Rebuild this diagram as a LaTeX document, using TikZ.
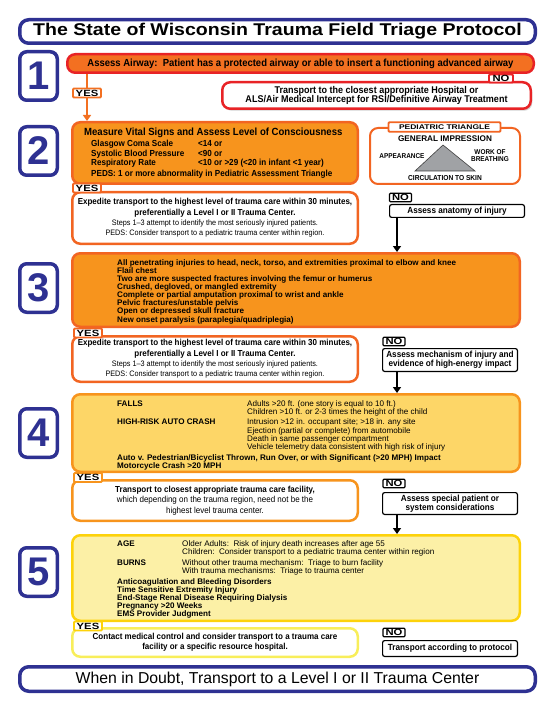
\documentclass[tikz,border=0pt]{standalone}
\usepackage{fontspec}
\setmainfont{Liberation Sans}
\newfontfamily\nar{Liberation Sans}[FakeStretch=0.92]
\newfontfamily\wid{Liberation Sans}[FakeStretch=1.25]
\newfontfamily\ttl{Liberation Sans}[FakeStretch=1.15]
\usetikzlibrary{arrows.meta,positioning,shadows}
\definecolor{wiblue}{RGB}{46,49,146}
\definecolor{wired}{RGB}{232,35,38}
\definecolor{wiorg}{RGB}{243,112,33}
\definecolor{wiamber}{RGB}{247,148,29}
\definecolor{wirust}{RGB}{242,101,34}
\definecolor{wigold}{RGB}{253,214,103}
\definecolor{wilemon}{RGB}{252,240,166}
\definecolor{wiyel}{RGB}{253,210,10}
\definecolor{wipale}{RGB}{248,238,90}
\definecolor{wigray}{RGB}{160,162,165}
\newcommand{\fsz}[2]{\fontsize{#1}{#2}\selectfont}
\newcommand{\lab}[2]{\makebox[#1][l]{\bfseries #2}}
\newcommand{\expeditetext}{%
  {\bfseries\fsz{8.7}{10}Expedite transport to the highest level of trauma care within 30 minutes,}\\
  {\bfseries\fsz{8.7}{10}preferentially a Level I or II Trauma Center.}\\
  Steps 1–3 attempt to identify the most seriously injured patients.\\
  PEDS: Consider transport to a pediatric trauma center within region.}
\tikzset{
  numbox/.style={draw=wiblue, fill=white, line width=3.5pt, rounded corners=7pt,
    minimum width=37.5pt, minimum height=48.5pt, inner sep=0pt, anchor=north west,
    text=wiblue, font=\bfseries\fsz{40}{40}},
  hdrbox/.style={draw=wiblue, fill=white, line width=3.5pt, rounded corners=9pt,
    minimum width=515.5pt, inner sep=0pt, anchor=north west},
  panel/.style={line width=2.5pt, rounded corners=8pt, inner sep=0pt, anchor=north west},
  widebox/.style={panel, minimum width=447.5pt},
  halfbox/.style={panel, fill=white, minimum width=285.5pt, align=center},
  blkbox/.style={draw=black, fill=white, line width=1.2pt, rounded corners=2pt,
    minimum width=134.8pt, inner sep=0pt, anchor=north west, align=center,
    font=\nar\bfseries\fsz{8.9}{8.9}},
  tagbox/.style={fill=white, inner sep=0pt, rounded corners=1pt, font=\wid\bfseries\fsz{9}{9}},
  yestag/.style={tagbox, line width=1.8pt, minimum width=28pt, minimum height=9pt},
  notag/.style={tagbox, draw=black, line width=1.2pt, minimum width=22pt, minimum height=8.5pt},
  dnarr/.style={-{Triangle[length=6pt,width=8pt]}, line width=2.5pt},
  yesarr/.style={-{Triangle[length=6pt,width=8pt]}, line width=2.5pt, draw=wiorg},
  pedlab/.style={inner sep=0pt, align=center, font=\nar\bfseries\fsz{7}{7.6}},
}
\begin{document}
\begin{tikzpicture}[x=1pt,y=-1pt]
\useasboundingbox (0,0) rectangle (550,711);
\node[hdrbox, minimum height=23.5pt, font=\ttl\bfseries\fsz{17}{17}] (title) at (18,18)
  {The State of Wisconsin Trauma Field Triage Protocol};
% step numbers
\node[numbox] (n1) at (18,50) {1};
\node[numbox] (n2) at (18,125) {2};
\node[numbox] (n3) at (18,262) {3};
\node[numbox] (n4) at (18,407) {4};
\node[numbox] (n5) at (18,546) {5};
% 1 airway
\node[panel, draw=wired, fill=wiorg, minimum width=466.5pt, minimum height=18.5pt,
  font=\nar\bfseries\fsz{10.3}{10.3}] (bar1) at (66,53)
  {Assess Airway:\ \ Patient has a protected airway or able to insert a functioning advanced airway};
\node[panel, draw=wired, fill=white, minimum width=308.5pt, minimum height=26.5pt, align=center,
  font=\nar\bfseries\fsz{9.8}{9.3},
  drop shadow={shadow xshift=1.5pt, shadow yshift=-2pt, opacity=.35}] (tr1) at (221,81)
  {Transport to the closest appropriate Hospital or\\
   ALS/Air Medical Intercept for RSI/Definitive Airway Treatment};
\node[tagbox, draw=wired, line width=1.8pt, minimum width=24pt, minimum height=8pt] (no1) at (501,78.5) {NO};
% 2 vitals
\node[panel, draw=wirust, fill=wiamber, minimum width=285.5pt, minimum height=61.5pt] (step2) at (71,121) {};
\node[anchor=north west, inner sep=0pt, align=left, font=\nar\bfseries\fsz{8.8}{9.3}] (vitals) at (84,128)
  {{\fsz{10.4}{10.4}Measure Vital Signs and Assess Level of Consciousness}\\[1.7pt]
   \hspace*{7pt}\makebox[107pt][l]{Glasgow Coma Scale}<14 or\\
   \hspace*{7pt}\makebox[107pt][l]{Systolic Blood Pressure}<90 or\\
   \hspace*{7pt}\makebox[107pt][l]{Respiratory Rate}<10 or >29 (<20 in infant <1 year)\\[1.5pt]
   \hspace*{7pt}PEDS: 1 or more abnormality in Pediatric Assessment Triangle};
\coordinate (yes1pos) at (87,93);
\draw[yesarr] (bar1.south -| yes1pos) -- (step2.north -| yes1pos);
\node[yestag, draw=wiorg] (yes1) at (yes1pos) {YES};
% pediatric triangle
\node[panel, draw=wirust, fill=white, line width=2pt, minimum width=150pt, minimum height=56pt] (ped) at (369,127) {};
\node[tagbox, draw=wirust, line width=1.8pt, minimum width=112pt, minimum height=9.5pt,
  font=\wid\bfseries\fsz{6.8}{7}] (pedtag) at (444.5,127) {PEDIATRIC TRIANGLE};
\draw[fill=wigray, draw=black!75, line width=0.6pt] (443,145) -- (415,171) -- (475,171) -- cycle;
\node[pedlab, font=\bfseries\fsz{8.2}{8.2}] (gen) at (445,139) {GENERAL IMPRESSION};
\node[pedlab] (app) at (402,156) {APPEARANCE};
\node[pedlab] (wob) at (490,155.5) {WORK OF\\BREATHING};
\node[pedlab, font=\nar\bfseries\fsz{7.2}{7.2}] (circ) at (445,178.5) {CIRCULATION TO SKIN};
% 2 outcomes
\node[halfbox, draw=wirust, minimum height=51.5pt, font=\nar\fsz{7.9}{10.3}] (exp1) at (71,191) {\expeditetext};
\node[yestag, draw=wirust] (yes2) at (87,188) {YES};
\node[blkbox, minimum height=12.8pt] (anat) at (389,204) {Assess anatomy of injury};
\node[notag] (no2) at (400.5,197.5) {NO};
% 3 anatomy
\node[widebox, draw=wirust, fill=wiamber, minimum height=73.5pt] (step3) at (71,252) {};
\draw[dnarr] ([xshift=8pt]anat.south west) -- ([xshift=8pt]anat.south west |- step3.north);
\node[anchor=north west, inner sep=0pt, align=left, font=\bfseries\fsz{8.1}{8.15}] (injuries) at (117,259)
  {All penetrating injuries to head, neck, torso, and extremities proximal to elbow and knee\\
   Flail chest\\
   Two are more suspected fractures involving the femur or humerus\\
   Crushed, degloved, or mangled extremity\\
   Complete or partial amputation proximal to wrist and ankle\\
   Pelvic fractures/unstable pelvis\\
   Open or depressed skull fracture\\
   New onset paralysis (paraplegia/quadriplegia)};
\node[halfbox, draw=wirust, minimum height=45.5pt, font=\nar\fsz{7.9}{10.3}] (exp2) at (71,335) {\expeditetext};
\node[yestag, draw=wirust] (yes3) at (88,333) {YES};
\node[blkbox, minimum height=22.8pt] (mech) at (382,348)
  {Assess mechanism of injury and\\evidence of high-energy impact};
\node[notag] (no3) at (394,341.5) {NO};
% 4 mechanism
\node[widebox, draw=wiamber, fill=wigold, minimum height=77.5pt] (step4) at (71,393) {};
\draw[dnarr] ([xshift=15pt]mech.south west) -- ([xshift=15pt]mech.south west |- step4.north);
\node[anchor=north west, inner sep=0pt, align=left, font=\fsz{8.1}{8.3}] (mechlist) at (117,400)
  {\lab{130pt}{FALLS}Adults >20 ft. (one story is equal to 10 ft.)\\
   \hspace*{130pt}Children >10 ft. or 2-3 times the height of the child\\[2.3pt]
   \lab{130pt}{HIGH-RISK AUTO CRASH}Intrusion >12 in. occupant site; >18 in. any site\\
   \hspace*{130pt}Ejection (partial or complete) from automobile\\
   \hspace*{130pt}Death in same passenger compartment\\
   \hspace*{130pt}Vehicle telemetry data consistent with high risk of injury\\[2.5pt]
   {\bfseries Auto v. Pedestrian/Bicyclist Thrown, Run Over, or with Significant (>20 MPH) Impact}\\
   {\bfseries Motorcycle Crash >20 MPH}};
\node[halfbox, draw=wiamber, minimum height=40.5pt, font=\nar\fsz{8.7}{10.5}] (tr4) at (71,479)
  {{\bfseries Transport to closest appropriate trauma care facility,}\\
   which depending on the trauma region, need not be the\\
   highest level trauma center.};
\node[yestag, draw=wiamber] (yes4) at (88,477.5) {YES};
\node[blkbox, minimum height=21.8pt] (spec) at (382,492)
  {Assess special patient or\\system considerations};
\node[notag] (no4) at (394,483.5) {NO};
% 5 special
\node[widebox, draw=wiyel, fill=wilemon, minimum height=85.5pt] (step5) at (71,534) {};
\draw[dnarr] ([xshift=15pt]spec.south west) -- ([xshift=15pt]spec.south west |- step5.north);
\node[anchor=north west, inner sep=0pt, align=left, font=\fsz{8.1}{8}] (speclist) at (117,540)
  {\lab{65pt}{AGE}Older Adults:\ \ Risk of injury death increases after age 55\\
   \hspace*{65pt}Children:\ \ Consider transport to a pediatric trauma center within region\\[3pt]
   \lab{65pt}{BURNS}Without other trauma mechanism:\ \ Triage to burn facility\\
   \hspace*{65pt}With trauma mechanisms:\ \ Triage to trauma center\\[3pt]
   {\bfseries Anticoagulation and Bleeding Disorders}\\
   {\bfseries Time Sensitive Extremity Injury}\\
   {\bfseries End-Stage Renal Disease Requiring Dialysis}\\
   {\bfseries Pregnancy >20 Weeks}\\
   {\bfseries EMS Provider Judgment}};
\node[halfbox, draw=wipale, minimum height=28.5pt, font=\nar\bfseries\fsz{8.7}{10}] (cont) at (71,627)
  {Contact medical control and consider transport to a trauma care\\
   facility or a specific resource hospital.};
\node[yestag, draw=wiyel] (yes5) at (88,626) {YES};
\node[blkbox, minimum height=15.8pt] (prot) at (382,640) {Transport according to protocol};
\node[notag] (no5) at (394,632.5) {NO};
% footer
\node[hdrbox, minimum height=24.5pt, font=\fsz{15.8}{15.8}] (doubt) at (18,665)
  {When in Doubt, Transport to a Level I or II Trauma Center};
\end{tikzpicture}
\end{document}
